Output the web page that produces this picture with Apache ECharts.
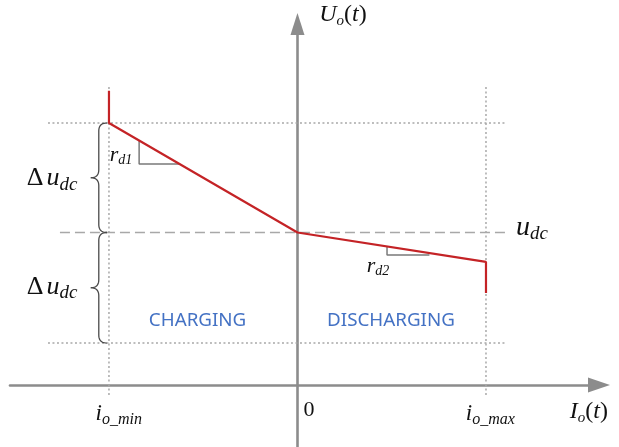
<!DOCTYPE html>
<html><head><meta charset="utf-8">
<script src="https://cdn.jsdelivr.net/npm/echarts@6/dist/echarts.min.js"></script>
<style>html,body{margin:0;padding:0;background:#fff}#c{width:619px;height:447px}</style>
</head><body><div id="c"></div>
<script>
// ---- data (schematic units) ----
const currentTicks = [-1, 0, 1];            // i_o_min, 0, i_o_max
const udcLevel = 1.0;                        // u_dc
const upperLevel = 1.718;                    // u_dc + Δu_dc
const lowerLevel = 0.275;                    // u_dc - Δu_dc
const droopX = [-1, -1, 0, 1, 1];
const droopY = [1.93, 1.718, 1.0, 0.807, 0.603];
const guideXRange = [-1.3236, 1.1008];
const dashXRange = [-1.26, 1.1008];
const vGuideYRange = [-0.066, 1.967];
const rd1X = [-0.84, -0.84, -0.625];
const rd1Y = [1.603, 1.449, 1.449];
const rd2X = [0.475, 0.475, 0.70];
const rd2Y = [0.908, 0.8525, 0.8525];
const braceEndX = -1.011, braceTipX = -1.097;
const braceSpans = [[upperLevel, udcLevel], [udcLevel, lowerLevel]];
const textItems = [
  '{U|U}{s|o}{n|(}{U|t}{n|)}',
  '{U|I}{s|o}{n|(}{U|t}{n|)}',
  '{B|u}{S|dc}',
  '{D|Δ}{u|u}{S|dc}',
  '{D|Δ}{u|u}{S|dc}',
  '{r|r}{rs|d1}',
  '{r|r}{rs|d2}',
  '{b|CHARGING}',
  '{b|DISCHARGING}',
  '{i|i}{is|o_min}',
  '{z|0}',
  '{i|i}{is|o_max}'
];
const textX = [0.241, 1.546, 1.244, -1.302, -1.302, -0.936, 0.427, -0.530, 0.496, -0.948, 0.061, 1.023];
const textY = [2.426, -0.177, 1.0295, 1.357, 0.643, 1.508, 0.780, 0.42, 0.42, -0.19, -0.164, -0.19];

const X_MIN = -1.525, X_MAX = 1.5995, Y_MIN = -0.4066, Y_MAX = 2.367;
const AX = '#8c8c8c', GUIDE = '#a8a8a8', RED = '#c42326', TXT = '#111111', BLUE = '#4472c4';
const SERIF = '"Liberation Serif", "DejaVu Serif", serif';

function seg(xs, ys) { return xs.map((x, i) => [x, ys[i]]); }
function guide(data, type) {
  return { type: 'line', data: data, symbol: 'none', silent: true, z: 1,
    lineStyle: { color: GUIDE, width: 1.5, type: type } };
}

const chart = echarts.init(document.getElementById('c'), null, { renderer: 'canvas' });
const series = [
  guide([[guideXRange[0], upperLevel], [guideXRange[1], upperLevel]], [2, 2.5]),
  guide([[guideXRange[0], lowerLevel], [guideXRange[1], lowerLevel]], [2, 2.5]),
  guide([[dashXRange[0], udcLevel], [dashXRange[1], udcLevel]], [10, 5]),
  guide([[currentTicks[0], vGuideYRange[0]], [currentTicks[0], vGuideYRange[1]]], [2, 2.5]),
  guide([[currentTicks[2], vGuideYRange[0]], [currentTicks[2], vGuideYRange[1]]], [2, 2.5]),
  { type: 'line', data: seg(rd1X, rd1Y), symbol: 'none', silent: true, z: 2,
    lineStyle: { color: '#7a7a7a', width: 1.5 } },
  { type: 'line', data: seg(rd2X, rd2Y), symbol: 'none', silent: true, z: 2,
    lineStyle: { color: '#7a7a7a', width: 1.5 } },
  { type: 'line', data: seg(droopX, droopY), symbol: 'none', silent: true, z: 5,
    lineStyle: { color: RED, width: 2.2 } },
  { type: 'custom', silent: true, z: 3,
    data: braceSpans.map(s => [braceEndX, braceTipX, s[0], s[1]]),
    renderItem: function (params, api) {
      const xe = api.value(0), xt = api.value(1), y1 = api.value(2), y2 = api.value(3);
      const pT = api.coord([xe, y1]), pB = api.coord([xe, y2]), pM = api.coord([xt, (y1 + y2) / 2]);
      const xm = (pT[0] + pM[0]) / 2, r = 8;
      const pts = [];
      function quad(a, c, b) { for (let k = 0; k <= 10; k++) { const t = k / 10, u = 1 - t;
        pts.push([u*u*a[0] + 2*u*t*c[0] + t*t*b[0], u*u*a[1] + 2*u*t*c[1] + t*t*b[1]]); } }
      const ym = pM[1];
      quad([pT[0], pT[1]], [xm, pT[1]], [xm, pT[1] + r]);
      quad([xm, ym - r], [xm, ym], [pM[0], ym]);
      quad([pM[0], ym], [xm, ym], [xm, ym + r]);
      quad([xm, pB[1] - r], [xm, pB[1]], [pB[0], pB[1]]);
      return { type: 'polyline', shape: { points: pts }, style: { stroke: '#4a4a4a', fill: null, lineWidth: 1.3 } };
    } },
  { type: 'scatter', clip: false, silent: true, symbolSize: 1, itemStyle: { color: 'rgba(0,0,0,0)' }, z: 6,
    data: textItems.map((t, i) => ({ value: [textX[i], textY[i]], name: t })),
    label: { show: true, position: 'inside', formatter: p => p.name, color: TXT, opacity: 1,
      rich: {
        U: { fontFamily: SERIF, fontStyle: 'italic', fontSize: 24, color: TXT },
        n: { fontFamily: SERIF, fontSize: 24, color: TXT },
        s: { fontFamily: SERIF, fontStyle: 'italic', fontSize: 15, color: TXT, padding: [13, 0, 0, 0] },
        B: { fontFamily: SERIF, fontStyle: 'italic', fontSize: 28, color: TXT },
        S: { fontFamily: SERIF, fontStyle: 'italic', fontSize: 19, color: TXT, padding: [13, 0, 0, 0] },
        D: { fontFamily: SERIF, fontSize: 26, color: TXT, padding: [0, 3, 0, 0] },
        u: { fontFamily: SERIF, fontStyle: 'italic', fontSize: 26, color: TXT },
        r: { fontFamily: SERIF, fontStyle: 'italic', fontSize: 22, color: TXT },
        rs: { fontFamily: SERIF, fontStyle: 'italic', fontSize: 14, color: TXT, padding: [10, 0, 0, 0] },
        b: { fontFamily: '"Noto Sans", sans-serif', fontSize: 18.8, color: BLUE },
        i: { fontFamily: SERIF, fontStyle: 'italic', fontSize: 23, color: TXT },
        is: { fontFamily: SERIF, fontStyle: 'italic', fontSize: 16, color: TXT, padding: [11, 0, 0, 0] },
        z: { fontFamily: SERIF, fontSize: 22, color: TXT }
      } } }
];

chart.setOption({
  animation: false,
  backgroundColor: '#ffffff',
  grid: { left: 10, right: 20, top: 24, bottom: 0, containLabel: false },
  xAxis: { type: 'value', min: X_MIN, max: X_MAX, splitLine: { show: false },
    axisTick: { show: false }, axisLabel: { show: false },
    axisLine: { show: true, onZero: true, symbol: ['none', 'triangle'], symbolSize: [15, 22],
      lineStyle: { color: AX, width: 2.6 } } },
  yAxis: { type: 'value', min: Y_MIN, max: Y_MAX, splitLine: { show: false },
    axisTick: { show: false }, axisLabel: { show: false },
    axisLine: { show: true, onZero: true, symbol: ['none', 'triangle'], symbolSize: [14, 22],
      lineStyle: { color: AX, width: 2.6 } } },
  series: series
});
</script></body></html>
